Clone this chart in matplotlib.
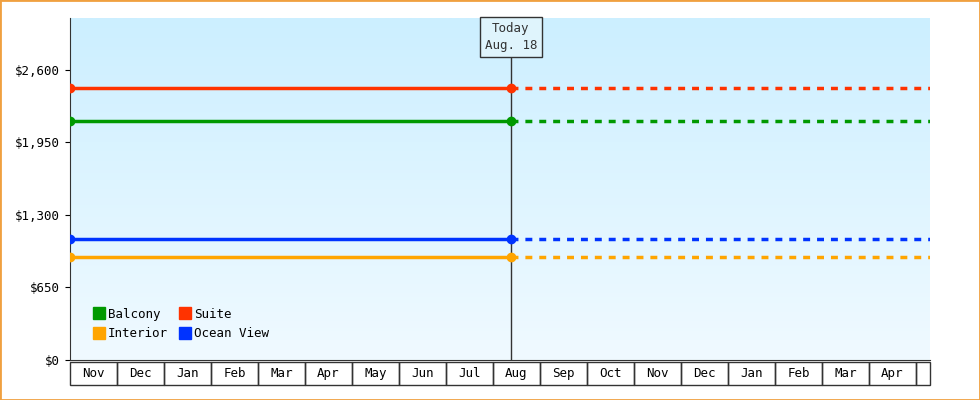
import numpy as np
import matplotlib.pyplot as plt
from matplotlib.patches import Rectangle
from matplotlib.colors import LinearSegmentedColormap

months = ['Nov', 'Dec', 'Jan', 'Feb', 'Mar', 'Apr', 'May', 'Jun', 'Jul', 'Aug',
          'Sep', 'Oct', 'Nov', 'Dec', 'Jan', 'Feb', 'Mar', 'Apr', '']
series = ['Balcony', 'Interior', 'Suite', 'Ocean View']
prices = [2140, 920, 2440, 1085]
colors = ['#009900', '#ffa500', '#ff3300', '#0033ff']
today_x = 9.38
x_end = 18.3
yticks = [0, 650, 1300, 1950, 2600]

plt.rcParams['font.family'] = 'DejaVu Sans Mono'
fig = plt.figure(figsize=(9.8, 4), dpi=100)
fig.patches.append(Rectangle((0, 0), 1, 1, transform=fig.transFigure,
                             fill=False, edgecolor='#f0a040', lw=2))
ax = fig.add_axes([70/980, 40/400, 860/980, 342/400])
ax.set_xlim(0, x_end)
ax.set_ylim(0, 3066)

# gradient background
grad = np.linspace(0, 1, 256).reshape(-1, 1)
cmap = LinearSegmentedColormap.from_list('bg', ['#f0faff', '#ccefff'])
ax.imshow(grad, aspect='auto', cmap=cmap, origin='lower',
          extent=[0, x_end, 0, 3066], zorder=0)

for name, p, c in zip(series, prices, colors):
    ax.plot([0, today_x], [p, p], color=c, lw=2.5, marker='o', ms=6, label=name, zorder=3)
    ax.plot([today_x, x_end], [p, p], color=c, lw=2.5, ls=(0, (2, 2)), zorder=3)

ax.axvline(today_x, color='#333333', lw=1, zorder=2)
ax.text(today_x, 3066 - 40, 'Today\nAug. 18', ha='center', va='top', fontsize=9,
        color='#333333', linespacing=1.4,
        bbox=dict(boxstyle='square,pad=0.4', fc='#dff4fc', ec='#333333', lw=1), zorder=4)

ax.set_yticks(yticks)
ax.set_yticklabels(['$0', '$650', '$1,300', '$1,950', '$2,600'], fontsize=9)
ax.set_xticks([])
for s in ['top', 'right']:
    ax.spines[s].set_visible(False)
ax.spines['left'].set_color('#333333')
ax.spines['bottom'].set_color('#333333')

# month boxes under axis
xt = ax.get_xaxis_transform()
h = 23 / 342
for i, m in enumerate(months):
    w = min(1, x_end - i)
    ax.add_patch(Rectangle((i, -0.006 - h), w, h, transform=xt,
                           fill=False, ec='#333333', lw=1, clip_on=False))
    ax.text(i + 0.5, -0.006 - h / 2, m, transform=xt,
            ha='center', va='center', fontsize=9)

leg = ax.legend(loc='lower left', ncol=2, frameon=False, fontsize=9,
                handlelength=0.8, handleheight=0.8, columnspacing=1.0,
                handletextpad=0.3, labelspacing=0.5, bbox_to_anchor=(0.015, 0.025))
for hd, c in zip(leg.legend_handles, colors):
    hd.set_linestyle('')
    hd.set_marker('s')
    hd.set_markersize(8)
    hd.set_color(c)

fig.savefig('out.png')
